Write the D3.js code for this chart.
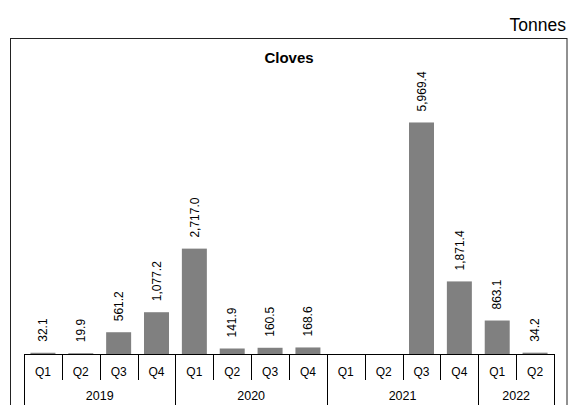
<!DOCTYPE html>
<html>
<head>
<meta charset="utf-8">
<script src="https://cdn.jsdelivr.net/npm/d3@7"></script>
<style>
  html, body { margin: 0; padding: 0; background: #fff; }
  svg { display: block; }
  text { font-family: Arial, "Liberation Sans", sans-serif; fill: #000; }
</style>
</head>
<body>
<svg id="chart" width="569" height="405"></svg>
<script>
const years = ["2019", "2020", "2021", "2022"];
const quarters = ["Q1","Q2","Q3","Q4","Q1","Q2","Q3","Q4","Q1","Q2","Q3","Q4","Q1","Q2"];
const quarterYears = ["2019","2019","2019","2019","2020","2020","2020","2020","2021","2021","2021","2021","2022","2022"];
const values = [32.1, 19.9, 561.2, 1077.2, 2717.0, 141.9, 160.5, 168.6, null, null, 5969.4, 1871.4, 863.1, 34.2];
const title = "Cloves";
const unit = "Tonnes";

const svg = d3.select("#chart");
const W = 569, H = 405;

const plotLeft = 24, plotRight = 554, axisY = 354;
const idx = d3.range(values.length);

const x = d3.scaleBand().domain(idx).range([plotLeft, plotRight]).paddingInner(0).paddingOuter(0);
const y = d3.scaleLinear().domain([0, 7000]).range([axisY, 82.5]);
const barW = x.bandwidth() * 0.66;

// frame
svg.append("rect")
  .attr("x", 10.5).attr("y", 38.5)
  .attr("width", 567 - 10.5).attr("height", 420)
  .attr("fill", "none").attr("stroke", "#222").attr("stroke-width", 1);

// unit
svg.append("text").attr("x", 566).attr("y", 31)
  .attr("text-anchor", "end").style("font-size", "17.5px").text(unit);

// title
svg.append("text").attr("x", 289).attr("y", 63)
  .attr("text-anchor", "middle").style("font-size", "15px").style("font-weight", "bold").text(title);

// bars
const data = idx.map(i => ({i, v: values[i]})).filter(d => d.v != null);
svg.append("g").selectAll("rect").data(data).join("rect")
  .attr("x", d => x(d.i) + (x.bandwidth() - barW) / 2)
  .attr("y", d => y(d.v))
  .attr("width", barW)
  .attr("height", d => y(0) - y(d.v))
  .attr("fill", "#808080");

// value labels
const fmt = d3.format(",.1f");
svg.append("g").selectAll("text").data(data).join("text")
  .attr("transform", d => `translate(${x(d.i) + x.bandwidth() / 2},${y(d.v) - 11}) rotate(-90)`)
  .attr("dy", "0.35em")
  .attr("text-anchor", "start")
  .style("font-size", "12px")
  .text(d => fmt(d.v));

// category axis
const axisG = svg.append("g").attr("stroke", "#000").attr("stroke-width", 1);
axisG.append("line").attr("x1", plotLeft).attr("x2", plotRight)
  .attr("y1", axisY + 0.5).attr("y2", axisY + 0.5);

// boundaries
const boundaries = d3.range(values.length + 1);
const yearStarts = new Set();
years.forEach(yr => {
  const first = quarterYears.indexOf(yr);
  const last = quarterYears.lastIndexOf(yr);
  yearStarts.add(first); yearStarts.add(last + 1);
});
boundaries.forEach(b => {
  const bx = Math.round(b === values.length ? plotRight : x(b)) + 0.5;
  axisG.append("line")
    .attr("x1", bx).attr("x2", bx)
    .attr("y1", axisY).attr("y2", yearStarts.has(b) ? H + 5 : 380);
});

// quarter labels
svg.append("g").selectAll("text").data(idx).join("text")
  .attr("x", i => x(i) + x.bandwidth() / 2)
  .attr("y", 376)
  .attr("text-anchor", "middle")
  .style("font-size", "12px")
  .text(i => quarters[i]);

// year labels
svg.append("g").selectAll("text").data(years).join("text")
  .attr("x", yr => {
    const first = quarterYears.indexOf(yr);
    const last = quarterYears.lastIndexOf(yr);
    return (x(first) + x(last) + x.bandwidth()) / 2;
  })
  .attr("y", 400)
  .attr("text-anchor", "middle")
  .style("font-size", "12.5px")
  .text(yr => yr);
</script>
</body>
</html>
